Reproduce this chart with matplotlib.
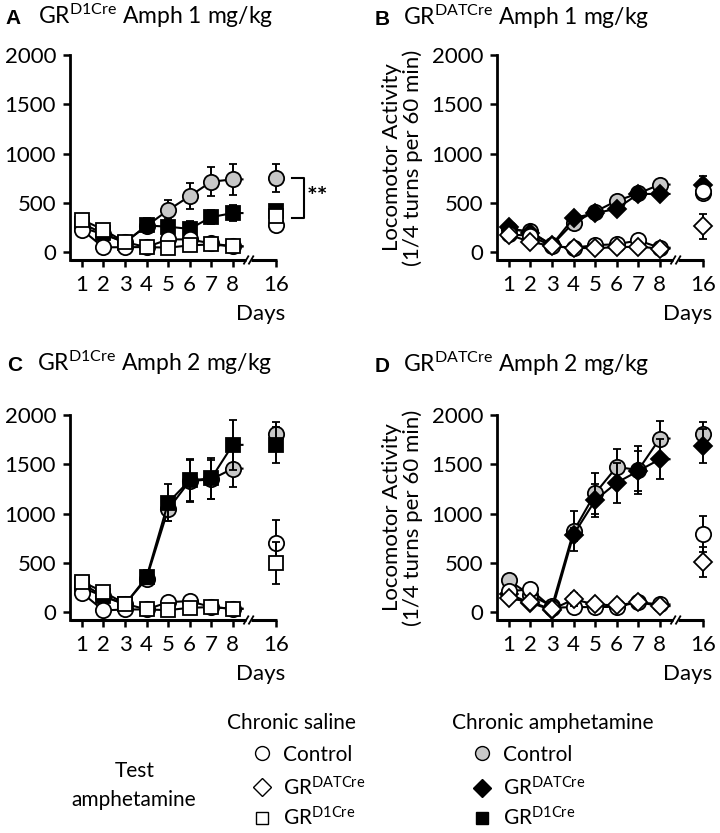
import matplotlib
matplotlib.use("Agg")
import matplotlib.pyplot as plt
from matplotlib.lines import Line2D

plt.rcParams['font.family'] = ['Lato', 'DejaVu Sans']
plt.rcParams['mathtext.fontset'] = 'custom'
plt.rcParams['mathtext.rm'] = 'Lato'
plt.rcParams['mathtext.it'] = 'Lato'

# days tested; day 16 sits after an axis break
days = [1, 2, 3, 4, 5, 6, 7, 8, 16]
day_pos = [1, 2, 3, 4, 5, 6, 7, 8, 10]

# ---- A: GR D1Cre, 1 mg/kg ----
a_amph_ctrl = [250, 180, 100, 265, 425, 568, 714, 738, 752]
a_amph_ctrl_sem = [30, 30, 20, 60, 108, 135, 145, 160, 139]
a_amph_mut = [290, 190, 95, 270, 258, 235, 355, 396, 415]
a_amph_mut_sem = [30, 30, 20, 80, 78, 78, 70, 78, 60]
a_sal_ctrl = [227, 48, 50, 51, 129, 129, 88, 58, 271]
a_sal_ctrl_sem = [20, 15, 10, 10, 20, 20, 15, 10, 50]
a_sal_mut = [329, 227, 101, 51, 45, 68, 78, 58, 362]
a_sal_mut_sem = [20, 20, 15, 10, 10, 10, 10, 10, 40]

# ---- B: GR DATCre, 1 mg/kg ----
b_amph_ctrl = [230, 210, 70, 300, 410, 520, 595, 685, 600]
b_amph_ctrl_sem = [30, 30, 15, 40, 40, 40, 50, 40, 40]
b_amph_mut = [250, 195, 75, 345, 395, 440, 590, 590, 685]
b_amph_mut_sem = [30, 30, 15, 40, 40, 40, 50, 40, 85]
b_sal_ctrl = [180, 165, 60, 45, 70, 80, 118, 45, 620]
b_sal_ctrl_sem = [20, 20, 10, 10, 10, 15, 15, 10, 40]
b_sal_mut = [175, 105, 60, 42, 40, 50, 55, 36, 262]
b_sal_mut_sem = [20, 20, 10, 10, 10, 10, 10, 10, 125]

# ---- C: GR D1Cre, 2 mg/kg ----
c_amph_ctrl = [250, 160, 80, 340, 1042, 1330, 1347, 1456, 1812]
c_amph_ctrl_sem = [30, 30, 20, 60, 120, 210, 200, 183, 112]
c_amph_mut = [290, 162, 78, 355, 1110, 1337, 1357, 1697, 1697]
c_amph_mut_sem = [30, 30, 20, 70, 187, 214, 210, 251, 180]
c_sal_ctrl = [196, 17, 27, 27, 101, 112, 51, 34, 702]
c_sal_ctrl_sem = [20, 10, 10, 10, 15, 15, 10, 10, 233]
c_sal_mut = [308, 206, 85, 27, 20, 44, 51, 34, 497]
c_sal_mut_sem = [20, 20, 10, 10, 10, 10, 10, 10, 213]

# ---- D: GR DATCre, 2 mg/kg ----
d_amph_ctrl = [321, 173, 61, 821, 1205, 1473, 1442, 1761, 1812]
d_amph_ctrl_sem = [30, 30, 15, 205, 210, 180, 244, 180, 112]
d_amph_mut = [180, 95, 20, 787, 1133, 1313, 1432, 1551, 1686]
d_amph_mut_sem = [30, 20, 10, 70, 170, 204, 200, 204, 170]
d_sal_ctrl = [213, 230, 44, 51, 51, 54, 101, 78, 794]
d_sal_ctrl_sem = [20, 20, 10, 10, 10, 10, 10, 10, 180]
d_sal_mut = [139, 105, 27, 129, 78, 68, 101, 61, 508]
d_sal_mut_sem = [20, 15, 10, 68, 15, 10, 10, 10, 150]

yticks = [0, 500, 1000, 1500, 2000]
GRAY = '#c8c8c8'

fig = plt.figure(figsize=(7.2, 8.33), dpi=100)

W, H = 0.2875, 0.2461
axA = fig.add_axes([0.0972, 0.6879, W, H])
axB = fig.add_axes([0.6903, 0.6879, W, H])
axC = fig.add_axes([0.0972, 0.2557, W, H])
axD = fig.add_axes([0.6903, 0.2557, W, H])


def series(ax, vals, sem, marker, fc, ms, z):
    # line over days 1-8 with a short stub toward the break
    xs = day_pos[:8] + [8.45]
    ys = vals[:8] + [vals[7]]
    ax.plot(xs, ys, '-', color='black', lw=1.5, zorder=z)
    ax.errorbar(day_pos, vals, yerr=sem, fmt=marker, mfc=fc, mec='black',
                mew=1.3, ms=ms, ecolor='black', elinewidth=1.4, capsize=3,
                capthick=1.4, zorder=z + 0.5, clip_on=False)


def style(ax):
    ax.set_xlim(0.45, 10.05)
    ax.set_ylim(-80, 2000)
    ax.set_yticks(yticks)
    ax.set_xticks(day_pos)
    ax.set_xticklabels([str(d) for d in days])
    for s in ['top', 'right', 'bottom']:
        ax.spines[s].set_visible(False)
    ax.spines['left'].set_linewidth(2)
    ax.tick_params(axis='both', labelsize=16, width=1.8, length=5,
                   direction='out', pad=5)
    ax.tick_params(axis='x', pad=6)
    tr = ax.get_xaxis_transform()
    # bottom axis with a break between 8 and 16
    ax.plot([0.45, 8.62], [0, 0], color='black', lw=2.2, transform=tr,
            clip_on=False, solid_capstyle='butt')
    ax.plot([8.85, 10.05], [0, 0], color='black', lw=2.2, transform=tr,
            clip_on=False, solid_capstyle='butt')
    for x0 in (8.52, 8.75):
        ax.plot([x0, x0 + 0.2], [-0.018, 0.018], color='black', lw=1.3,
                transform=tr, clip_on=False)
    ax.text(0.92, -0.265, 'Days', transform=ax.transAxes, fontsize=16,
            ha='center', va='center')


panels = [
    (axA, [(a_amph_ctrl, a_amph_ctrl_sem, 'o', GRAY, 11),
           (a_amph_mut, a_amph_mut_sem, 's', 'black', 10),
           (a_sal_ctrl, a_sal_ctrl_sem, 'o', 'white', 11),
           (a_sal_mut, a_sal_mut_sem, 's', 'white', 10)]),
    (axB, [(b_amph_ctrl, b_amph_ctrl_sem, 'o', GRAY, 11),
           (b_amph_mut, b_amph_mut_sem, 'D', 'black', 9),
           (b_sal_ctrl, b_sal_ctrl_sem, 'o', 'white', 11),
           (b_sal_mut, b_sal_mut_sem, 'D', 'white', 9)]),
    (axC, [(c_amph_ctrl, c_amph_ctrl_sem, 'o', GRAY, 11),
           (c_amph_mut, c_amph_mut_sem, 's', 'black', 10),
           (c_sal_ctrl, c_sal_ctrl_sem, 'o', 'white', 11),
           (c_sal_mut, c_sal_mut_sem, 's', 'white', 10)]),
    (axD, [(d_amph_ctrl, d_amph_ctrl_sem, 'o', GRAY, 11),
           (d_amph_mut, d_amph_mut_sem, 'D', 'black', 9),
           (d_sal_ctrl, d_sal_ctrl_sem, 'o', 'white', 11),
           (d_sal_mut, d_sal_mut_sem, 'D', 'white', 9)]),
]

for ax, group in panels:
    style(ax)
    for i, (v, e, m, fc, ms) in enumerate(group):
        series(ax, v, e, m, fc, ms, 3 + i)

for ax in (axB, axD):
    ax.set_ylabel('Locomotor Activity\n(1/4 turns per 60 min)', fontsize=16,
                  linespacing=1.05, labelpad=6)

# significance bracket in A (Control vs GR D1Cre, chronic amphetamine)
axA.plot([10.75, 11.3, 11.3, 10.75], [a_amph_ctrl[-1], a_amph_ctrl[-1], 350, 350],
         color='black', lw=1.5, clip_on=False)
axA.text(11.45, (a_amph_ctrl[-1] + 350) / 2, '**', fontsize=18, ha='left',
         va='center', fontweight='bold')

# panel titles
titles = [('A', 5, 38, 24, 'D1Cre', 1), ('B', 375, 403, 25, 'DATCre', 1),
          ('C', 7, 37, 371, 'D1Cre', 2), ('D', 375, 403, 372, 'DATCre', 2)]
for letter, xl, xt, yb, sup, dose in titles:
    fig.text(xl / 720, 1 - yb / 833, letter, fontsize=15, fontweight='bold',
             family='Liberation Sans', va='baseline')
    fig.text(xt / 720, 1 - yb / 833,
             r'GR$^{\mathrm{%s}}$ Amph %d mg/kg' % (sup, dose), fontsize=16.5,
             va='baseline')

# legend area, pixel coordinates
lax = fig.add_axes([0, 0, 1, 1], zorder=-1)
lax.set_xlim(0, 720)
lax.set_ylim(833, 0)
lax.axis('off')

lax.text(291, 729, 'Chronic saline', fontsize=15, ha='center', va='baseline')
lax.text(553, 729, 'Chronic amphetamine', fontsize=15, ha='center', va='baseline')
lax.text(135, 777, 'Test', fontsize=15, ha='center', va='baseline')
lax.text(134, 806, 'amphetamine', fontsize=15, ha='center', va='baseline')

leg_left = [('o', 'white', 10, 753, 'Control'),
            ('D', 'white', 9, 787, r'GR$^{\mathrm{DATCre}}$'),
            ('s', 'white', 8.5, 818, r'GR$^{\mathrm{D1Cre}}$')]
leg_right = [('o', GRAY, 10, 753, 'Control'),
             ('D', 'black', 9, 788, r'GR$^{\mathrm{DATCre}}$'),
             ('s', 'black', 8.5, 818, r'GR$^{\mathrm{D1Cre}}$')]
for xm, xt, rows in ((262, 283, leg_left), (482, 503, leg_right)):
    for m, fc, ms, y, label in rows:
        lax.add_line(Line2D([xm], [y], marker=m, mfc=fc, mec='black', mew=1.0,
                            ms=ms, linestyle='none'))
        lax.text(xt, y + 8, label, fontsize=15, ha='left', va='baseline')

fig.savefig('out.png', dpi=100)
